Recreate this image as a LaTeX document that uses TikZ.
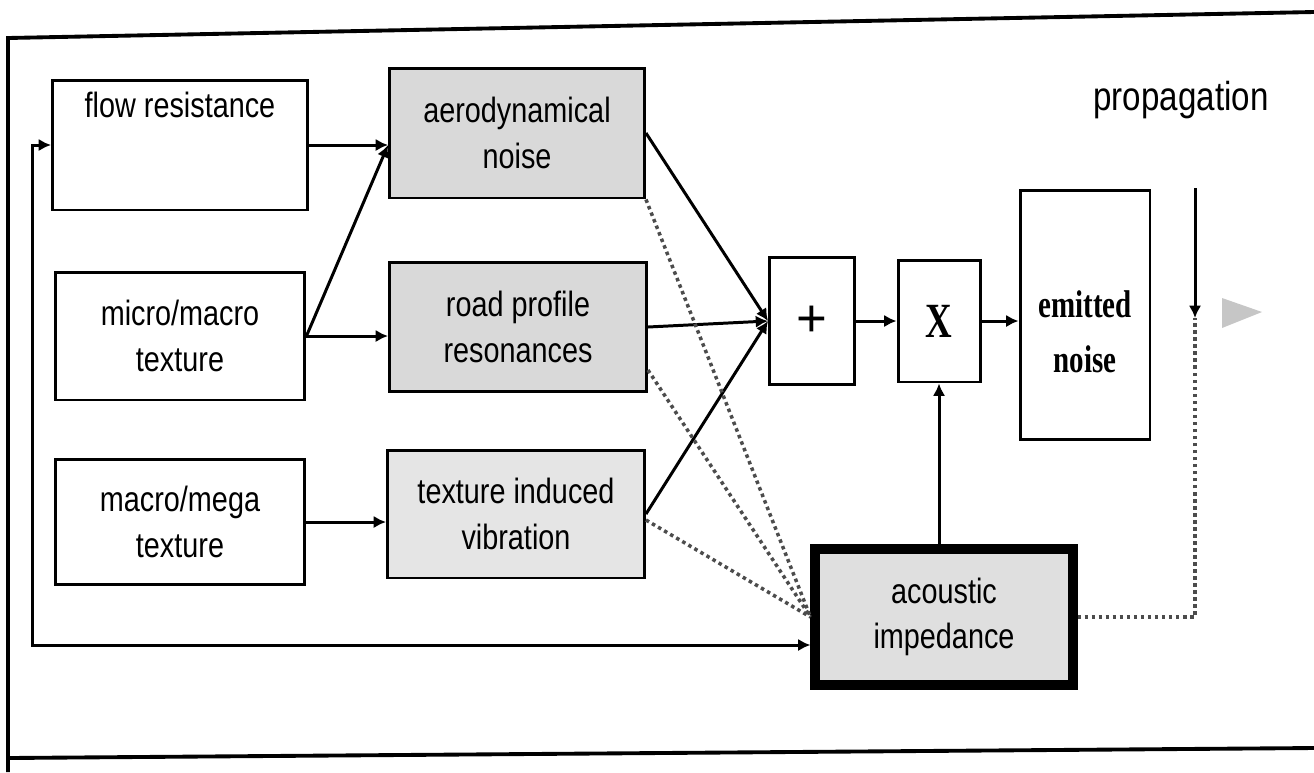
\documentclass[tikz,border=0pt]{standalone}
\usepackage{fontspec}
\setmainfont{Liberation Sans}
\newfontfamily\boxfont[FakeStretch=0.82]{Liberation Sans}
\newfontfamily\emitfont[FakeStretch=0.75]{Liberation Serif}
\usetikzlibrary{arrows.meta,
                positioning
            }

\begin{document}
\begin{tikzpicture}[x=0.02cm, y=-0.02cm, line width=1.7pt,
        >={Latex[length=7pt, width=7pt]},
        box/.style={draw, align=center, font=\boxfont\fontsize{20}{26}\selectfont},
        shaded/.style={box, fill=gray!30},
        feed/.style={dotted, line width=2pt, gray!60!black}]
            \useasboundingbox (0,0) rectangle (1314,772);
            \draw[line width=2.2pt] (1314,12) -- (8,38) -- (8,772);
            \draw[line width=2.2pt] (8,758) -- (1314,748);
            \node[box, minimum width=5.1cm, minimum height=2.6cm, text depth=1.6cm] (flow) at (180,145) {flow resistance};
            \node[box, minimum width=5cm, minimum height=2.56cm] (micro) at (180,336) {micro/macro\\texture};
            \node[box, minimum width=5cm, minimum height=2.5cm] (mega) at (180,522) {macro/mega\\texture};
            \node[shaded, minimum width=5.1cm, minimum height=2.6cm] (aero) at (517,133) {aerodynamical\\noise};
            \node[shaded, minimum width=5.14cm, minimum height=2.58cm] (road) at (518,327) {road profile\\resonances};
            \node[shaded, fill=gray!20, minimum width=5.14cm, minimum height=2.56cm] (vib) at (516,514) {texture induced\\vibration};
            \node[draw, minimum width=1.7cm, minimum height=2.54cm, font=\fontsize{30}{30}\selectfont] (plus) at (812,321) {+};
            \node[draw, minimum width=1.64cm, minimum height=2.44cm, font=\emitfont\bfseries\fontsize{28}{28}\selectfont] (times) at (939,321) {X};
            \node[draw, minimum width=2.6cm, minimum height=5cm, align=center, text height=2.3cm, font=\emitfont\bfseries\fontsize{22}{31}\selectfont] (emit) at (1085,315) {emitted\\noise};
            \node[shaded, fill=gray!25, line width=5.5pt, minimum width=5.15cm, minimum height=2.72cm] (imp) at (944,617) {acoustic\\impedance};
            \node[font=\boxfont\fontsize{23}{26}\selectfont] (prop) at (1181,100) {propagation};
            \coordinate (ptop) at (1195,188);
            \coordinate (parr) at (1195,318);
            \draw[->] (flow.east) -- (flow.east -| aero.west);
            \draw[->] (micro.east) -- (flow.east -| aero.west);
            \draw[->] (micro.east) -- (micro.east -| road.west);
            \draw[->] (mega.east) -- (mega.east -| vib.west);
            \draw[->] (aero.east) -- (plus.west);
            \draw[->] (road.east) -- (plus.west);
            \draw[->] (vib.east) -- (plus.west);
            \draw[->] (plus) -- (times);
            \draw[->] (times.east) -- (times.east -| emit.west);
            \draw[->] (times.south |- imp.north) -- (times.south);
            \draw[<->] (flow.west) -- ++(-19,0) |- ([yshift=-0.56cm]imp.west);
            \draw[feed] (aero.south east) -- (imp.west);
            \draw[feed] ([yshift=-0.86cm]road.east) -- (imp.west);
            \draw[feed] ([yshift=-0.12cm]vib.east) -- (imp.west);
            \draw[->] (ptop) -- (parr);
            \draw[feed] (imp.east) -| (parr);
            \fill[gray!45] (1222,298) -- (1262,312) -- (1222,328) -- cycle;
        \end{tikzpicture}
\end{document}
